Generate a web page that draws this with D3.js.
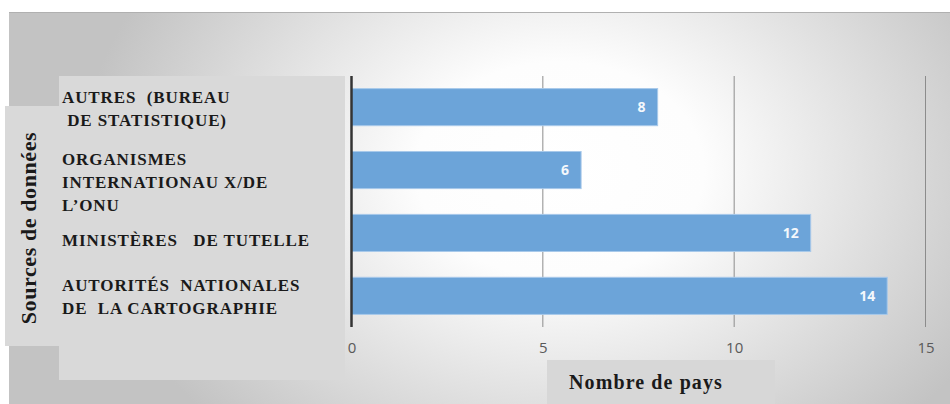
<!DOCTYPE html>
<html>
<head>
<meta charset="utf-8">
<script src="https://cdn.jsdelivr.net/npm/d3@7"></script>
<style>
  body { margin: 0; background: #fff; }
  svg { display: block; }
</style>
</head>
<body>
<script>
// categories, top to bottom, each split into the lines shown in the label box
var categories = ["autres", "organismes", "ministeres", "autorites"];
var labelLines = [
    ["AUTRES  (BUREAU", " DE STATISTIQUE)"],
    ["ORGANISMES", "INTERNATIONAU X/DE", "L\u2019ONU"],
    ["MINIST\u00c8RES   DE TUTELLE"],
    ["AUTORIT\u00c9S  NATIONALES", "DE  LA CARTOGRAPHIE"]
];
var values = [8, 6, 12, 14];
var xTicks = [0, 5, 10, 15];

function init() {
    var w = 950;
    var h = 404;

    var svg = d3.select("body")
                .append("svg")
                .attr("width", w)
                .attr("height", h);

    // background gradient, white in the middle, grey to the sides
    var defs = svg.append("defs");
    var grad = defs.append("radialGradient")
                   .attr("id", "bg")
                   .attr("gradientUnits", "userSpaceOnUse")
                   .attr("cx", 560).attr("cy", 170).attr("r", 480)
                   .attr("gradientTransform", "translate(560,170) scale(1,0.75) translate(-560,-170)");
    grad.append("stop").attr("offset", "0").attr("stop-color", "#ffffff");
    grad.append("stop").attr("offset", "0.3").attr("stop-color", "#fdfdfd");
    grad.append("stop").attr("offset", "1").attr("stop-color", "#c3c3c3");

    svg.append("rect")
       .attr("x", 9).attr("y", 12)
       .attr("width", w - 9).attr("height", h - 12)
       .attr("fill", "url(#bg)");
    svg.append("line")
       .attr("x1", 9).attr("x2", w).attr("y1", 12.5).attr("y2", 12.5)
       .attr("stroke", "#b0b0b0").attr("stroke-width", 1);

    // scales
    var xScale = d3.scaleLinear()
                   .domain([0, 15])
                   .range([351.5, 925.5]);
    var yScale = d3.scaleBand()
                   .domain(categories)
                   .range([76, 327])
                   .paddingInner(0.41)
                   .paddingOuter(0.2);

    // grey label boxes
    svg.append("rect")
       .attr("x", 59).attr("y", 76).attr("width", 286).attr("height", 304)
       .attr("fill", "#d9d9d9");
    svg.append("rect")
       .attr("x", 5).attr("y", 106).attr("width", 54).attr("height", 240)
       .attr("fill", "#d9d9d9");
    svg.append("rect")
       .attr("x", 547).attr("y", 360).attr("width", 228).attr("height", 44)
       .attr("fill", "#d7d7d7");

    // gridlines
    svg.append("g")
       .selectAll("line")
       .data(xTicks.filter(d => d > 0))
       .enter()
       .append("line")
       .attr("x1", d => xScale(d)).attr("x2", d => xScale(d))
       .attr("y1", 76).attr("y2", 327)
       .attr("stroke", "#8c8c8c").attr("stroke-width", 1);

    // bars
    svg.append("g")
       .selectAll("rect")
       .data(values)
       .enter()
       .append("rect")
       .attr("x", xScale(0))
       .attr("y", (d, i) => yScale(categories[i]))
       .attr("width", d => xScale(d) - xScale(0))
       .attr("height", yScale.bandwidth())
       .attr("fill", "#6ca4d9")
       .attr("stroke", "#a8c9ea")
       .attr("stroke-width", 1);

    // value labels inside the bar end
    svg.append("g")
       .selectAll("text")
       .data(values)
       .enter()
       .append("text")
       .attr("x", d => xScale(d) - 12)
       .attr("y", (d, i) => yScale(categories[i]) + yScale.bandwidth() / 2 + 5)
       .attr("text-anchor", "end")
       .style("font-family", "'Open Sans', sans-serif")
       .style("font-size", "14px")
       .style("font-weight", "bold")
       .attr("fill", "#f4f8fc")
       .text(d => d);

    // zero line
    svg.append("line")
       .attr("x1", xScale(0)).attr("x2", xScale(0))
       .attr("y1", 76).attr("y2", 327)
       .attr("stroke", "#333").attr("stroke-width", 2.5);

    // x axis tick labels
    var xAxis = d3.axisBottom(xScale)
                  .tickValues(xTicks)
                  .tickSize(0)
                  .tickPadding(0);
    var gx = svg.append("g")
                .attr("transform", "translate(0,345)")
                .call(xAxis);
    gx.select(".domain").remove();
    gx.selectAll("text")
      .attr("dy", "0.5em")
      .style("font-family", "'Open Sans', sans-serif")
      .style("font-size", "15px")
      .attr("fill", "#595959");

    // category labels in the grey box
    var lab = svg.append("g")
                 .selectAll("text")
                 .data(categories)
                 .enter()
                 .append("text")
                 .attr("x", 62)
                 .attr("y", (d, i) => yScale(d) + (labelLines[i].length === 1 ? 32 : 14))
                 .style("font-family", "'Liberation Serif', 'Times New Roman', serif")
                 .style("font-size", "17px")
                 .style("font-weight", "bold")
                 .style("letter-spacing", "0.9px")
                 .style("white-space", "pre")
                 .attr("fill", "#1a1a1a");
    lab.each(function(d, i) {
        var t = d3.select(this);
        labelLines[i].forEach(function(line, k) {
            t.append("tspan")
             .attr("x", 62)
             .attr("dy", k === 0 ? 0 : 23)
             .text(line);
        });
    });

    // y axis title
    svg.append("text")
       .attr("transform", "translate(36,228) rotate(-90)")
       .attr("text-anchor", "middle")
       .style("font-family", "'Liberation Serif', 'Times New Roman', serif")
       .style("font-size", "22px")
       .style("font-weight", "bold")
       .style("letter-spacing", "0.6px")
       .attr("fill", "#1a1a1a")
       .text("Sources de donn\u00e9es");

    // x axis title
    svg.append("text")
       .attr("x", 646)
       .attr("y", 389)
       .attr("text-anchor", "middle")
       .style("font-family", "'Liberation Serif', 'Times New Roman', serif")
       .style("font-size", "20px")
       .style("font-weight", "bold")
       .style("letter-spacing", "1.1px")
       .attr("fill", "#1a1a1a")
       .text("Nombre de pays");
}
window.onload = init;
</script>
</body>
</html>
